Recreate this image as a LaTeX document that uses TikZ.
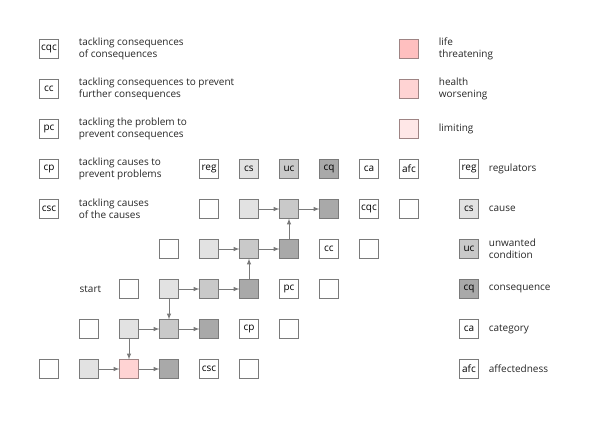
\documentclass[tikz,border=0pt]{standalone}
\usepackage{fontspec}
\setsansfont{Open Sans}
\usepackage{tikz}
\usetikzlibrary{shapes, arrows, matrix, positioning}

\definecolor{edge}{HTML}{7A7A7A}
\definecolor{pinkedge}{HTML}{9E8484}
\definecolor{causefill}{HTML}{E2E2E2}
\definecolor{uncofill}{HTML}{C9C9C9}
\definecolor{consfill}{HTML}{A9A9A9}
\definecolor{lifefill}{HTML}{FFBFBF}
\definecolor{worsefill}{HTML}{FFD3D3}
\definecolor{limitfill}{HTML}{FFE7E7}

\begin{document}
\begin{tikzpicture}[
		font=\sffamily,
		every matrix/.style={column sep=15pt, row sep=15pt, inner sep=0pt, outer sep=0pt},
		every node/.style={anchor=center, font=\sffamily\fontsize{7.5}{9}\selectfont},
		box/.style={draw=edge, line width=0.6pt, fill=white, minimum size=14.4pt, inner sep=0.5pt, outer sep=0pt},
		cause/.style={box, fill=causefill},
		unco/.style={box, fill=uncofill},
		cons/.style={box, fill=consfill},
		life/.style={box, draw=pinkedge, fill=lifefill},
		worse/.style={box, draw=pinkedge, fill=worsefill},
		limit/.style={box, draw=pinkedge, fill=limitfill},
		label/.style={align=left, inner sep=0pt, anchor=west, text=black!85},
		to/.style={-latex, draw=edge, line width=0.5pt}
		]
		
		\useasboundingbox (-29.25pt,29.25pt) rectangle (420.75pt,-288.75pt);
		
		\matrix (m) [matrix of nodes, anchor=north west] at (0,0)
		{
			|[box]| cqc & & & & & & & & & |[life]| & & \\
			|[box]| cc & & & & & & & & & |[worse]| & & \\
			|[box]| pc & & & & & & & & & |[limit]| & & \\
			|[box]| cp & & & & |[box]| reg & |[cause]| cs & |[unco]| uc & |[cons]| cq & |[box]| ca & |[box]| afc & & |[box]| reg \\
			|[box]| csc & & & & |[box]| & |[cause]| & |[unco]| & |[cons]| & |[box]| cqc & |[box]| & & |[cause]| cs \\
			& & & |[box]| & |[cause]| & |[unco]| & |[cons]| & |[box]| cc & |[box]| & & & |[unco]| uc \\
			& & |[box]| & |[cause]| & |[unco]| & |[cons]| & |[box]| pc & |[box]| & & & & |[cons]| cq \\
			& |[box]| & |[cause]| & |[unco]| & |[cons]| & |[box]| cp & |[box]| & & & & & |[box]| ca \\
			|[box]| & |[cause]| & |[worse]| & |[cons]| & |[box]| csc & |[box]| & & & & & & |[box]| afc \\
		};
		
		% approaches
		\node[label, right=15pt of m-1-1] (cqct) {tackling consequences\\of consequences};
		\node[label, right=15pt of m-2-1] (cct) {tackling consequences to prevent\\further consequences};
		\node[label, right=15pt of m-3-1] (pct) {tackling the problem to\\prevent consequences};
		\node[label, right=15pt of m-4-1] (cpt) {tackling causes to\\prevent problems};
		\node[label, right=15pt of m-5-1] (csct) {tackling causes\\of the causes};
		
		% severity
		\node[label, right=15pt of m-1-10] (lifet) {life\\threatening};
		\node[label, right=15pt of m-2-10] (worset) {health\\worsening};
		\node[label, right=15pt of m-3-10] (limitt) {limiting};
		
		% legend
		\node[label, right=7.5pt of m-4-12] (regt) {regulators};
		\node[label, right=7.5pt of m-5-12] (cst) {cause};
		\node[label, right=7.5pt of m-6-12] (uct) {unwanted\\condition};
		\node[label, right=7.5pt of m-7-12] (cqt) {consequence};
		\node[label, right=7.5pt of m-8-12] (cat) {category};
		\node[label, right=7.5pt of m-9-12] (afct) {affectedness};
		
		\node[label, anchor=east, left=13.5pt of m-7-3] (start) {start};
		
		\draw[to] (m-5-6) -- (m-5-7);
		\draw[to] (m-5-7) -- (m-5-8);
		\draw[to] (m-6-5) -- (m-6-6);
		\draw[to] (m-6-6) -- (m-6-7);
		\draw[to] (m-6-7) -- (m-5-7);
		\draw[to] (m-7-4) -- (m-7-5);
		\draw[to] (m-7-5) -- (m-7-6);
		\draw[to] (m-7-6) -- (m-6-6);
		\draw[to] (m-7-4) -- (m-8-4);
		\draw[to] (m-8-3) -- (m-8-4);
		\draw[to] (m-8-4) -- (m-8-5);
		\draw[to] (m-8-3) -- (m-9-3);
		\draw[to] (m-9-2) -- (m-9-3);
		\draw[to] (m-9-3) -- (m-9-4);
		
\end{tikzpicture}
\end{document}
